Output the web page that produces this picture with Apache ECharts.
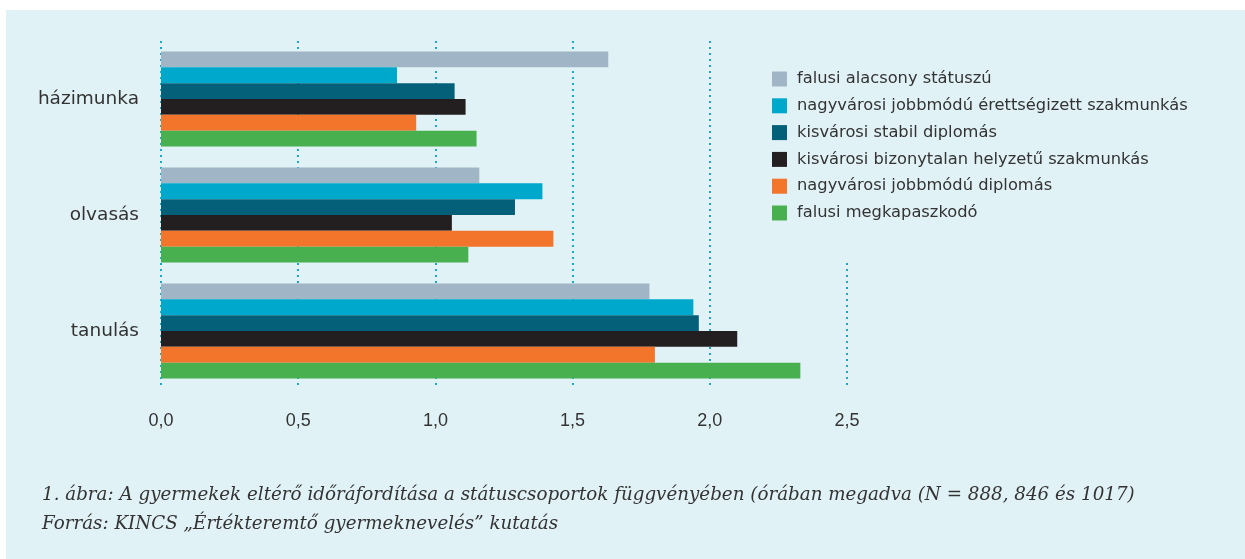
<!DOCTYPE html>
<html>
<head>
<meta charset="utf-8">
<script src="https://cdn.jsdelivr.net/npm/echarts@6/dist/echarts.min.js"></script>
<style>
  html, body { margin: 0; padding: 0; background: #ffffff; }
  #chart { width: 1245px; height: 559px; }
</style>
</head>
<body>
<div id="chart"></div>
<script>
// activities (top to bottom)
const categories = ['házimunka', 'olvasás', 'tanulás'];

// status groups, legend order
const groupNames = [
  'falusi alacsony státuszú',
  'nagyvárosi jobbmódú érettségizett szakmunkás',
  'kisvárosi stabil diplomás',
  'kisvárosi bizonytalan helyzetű szakmunkás',
  'nagyvárosi jobbmódú diplomás',
  'falusi megkapaszkodó'
];
const groupColors = ['#a0b6c6', '#00a8cc', '#045f78', '#231f20', '#f3752b', '#48b04f'];

// hours per group, one value per activity
const falusiAlacsony = [1.63, 1.16, 1.78];
const nagyvarosiSzakmunkas = [0.86, 1.39, 1.94];
const kisvarosiDiplomas = [1.07, 1.29, 1.96];
const kisvarosiBizonytalan = [1.11, 1.06, 2.10];
const nagyvarosiDiplomas = [0.93, 1.43, 1.80];
const falusiMegkapaszkodo = [1.15, 1.12, 2.33];

const seriesValues = [
  falusiAlacsony, nagyvarosiSzakmunkas, kisvarosiDiplomas,
  kisvarosiBizonytalan, nagyvarosiDiplomas, falusiMegkapaszkodo
];

const xTicks = [0, 0.5, 1, 1.5, 2, 2.5];

const captionLines = [
  '1. ábra: A gyermekek eltérő időráfordítása a státuscsoportok függvényében (órában megadva (N = 888, 846 és 1017)',
  'Forrás: KINCS „Értékteremtő gyermeknevelés” kutatás'
];

const panelColor = '#e1f2f7';
const chart = echarts.init(document.getElementById('chart'), null, { renderer: 'canvas' });

const option = {
  backgroundColor: '#ffffff',
  animation: false,
  graphic: [
    {
      type: 'rect', z: -10, silent: true,
      shape: { x: 6, y: 10, width: 1245, height: 560 },
      style: { fill: panelColor }
    },
    {
      type: 'text', left: 42, top: 481, silent: true,
      style: {
        text: captionLines.join('\n'),
        font: 'italic 18.3px "DejaVu Serif", "Liberation Serif", serif',
        fill: '#333333',
        lineHeight: 29
      }
    }
  ],
  legend: {
    orient: 'vertical',
    left: 762,
    top: 40,
    padding: [31, 20, 38, 10],
    backgroundColor: panelColor,
    itemWidth: 15,
    itemHeight: 15,
    itemGap: 10.8,
    icon: 'rect',
    textStyle: {
      fontFamily: '"DejaVu Sans", sans-serif',
      fontSize: 16.3,
      color: '#333333',
      padding: [0, 0, 0, 5]
    },
    data: groupNames
  },
  grid: { left: 161, right: 398, top: 41, bottom: 170 },
  xAxis: {
    type: 'value',
    min: xTicks[0],
    max: xTicks[xTicks.length - 1],
    interval: 0.5,
    axisLine: { show: false },
    axisTick: { show: false },
    axisLabel: {
      margin: 23,
      fontFamily: '"Liberation Sans Narrow", "Liberation Sans", sans-serif',
      fontSize: 18,
      color: '#333333',
      formatter: v => v.toFixed(1).replace('.', ',')
    },
    splitLine: {
      show: true,
      lineStyle: { color: '#1aa9ca', width: 2, type: [2, 4] }
    }
  },
  yAxis: {
    type: 'category',
    inverse: true,
    data: categories,
    axisLine: { show: false },
    axisTick: { show: false },
    axisLabel: {
      margin: 22,
      fontFamily: '"DejaVu Sans", sans-serif',
      fontSize: 18.5,
      color: '#333333'
    }
  },
  series: groupNames.map((name, i) => ({
    name: name,
    type: 'bar',
    data: seriesValues[i],
    barGap: 0,
    barCategoryGap: '18%',
    itemStyle: { color: groupColors[i] }
  }))
};

chart.setOption(option);
</script>
</body>
</html>
